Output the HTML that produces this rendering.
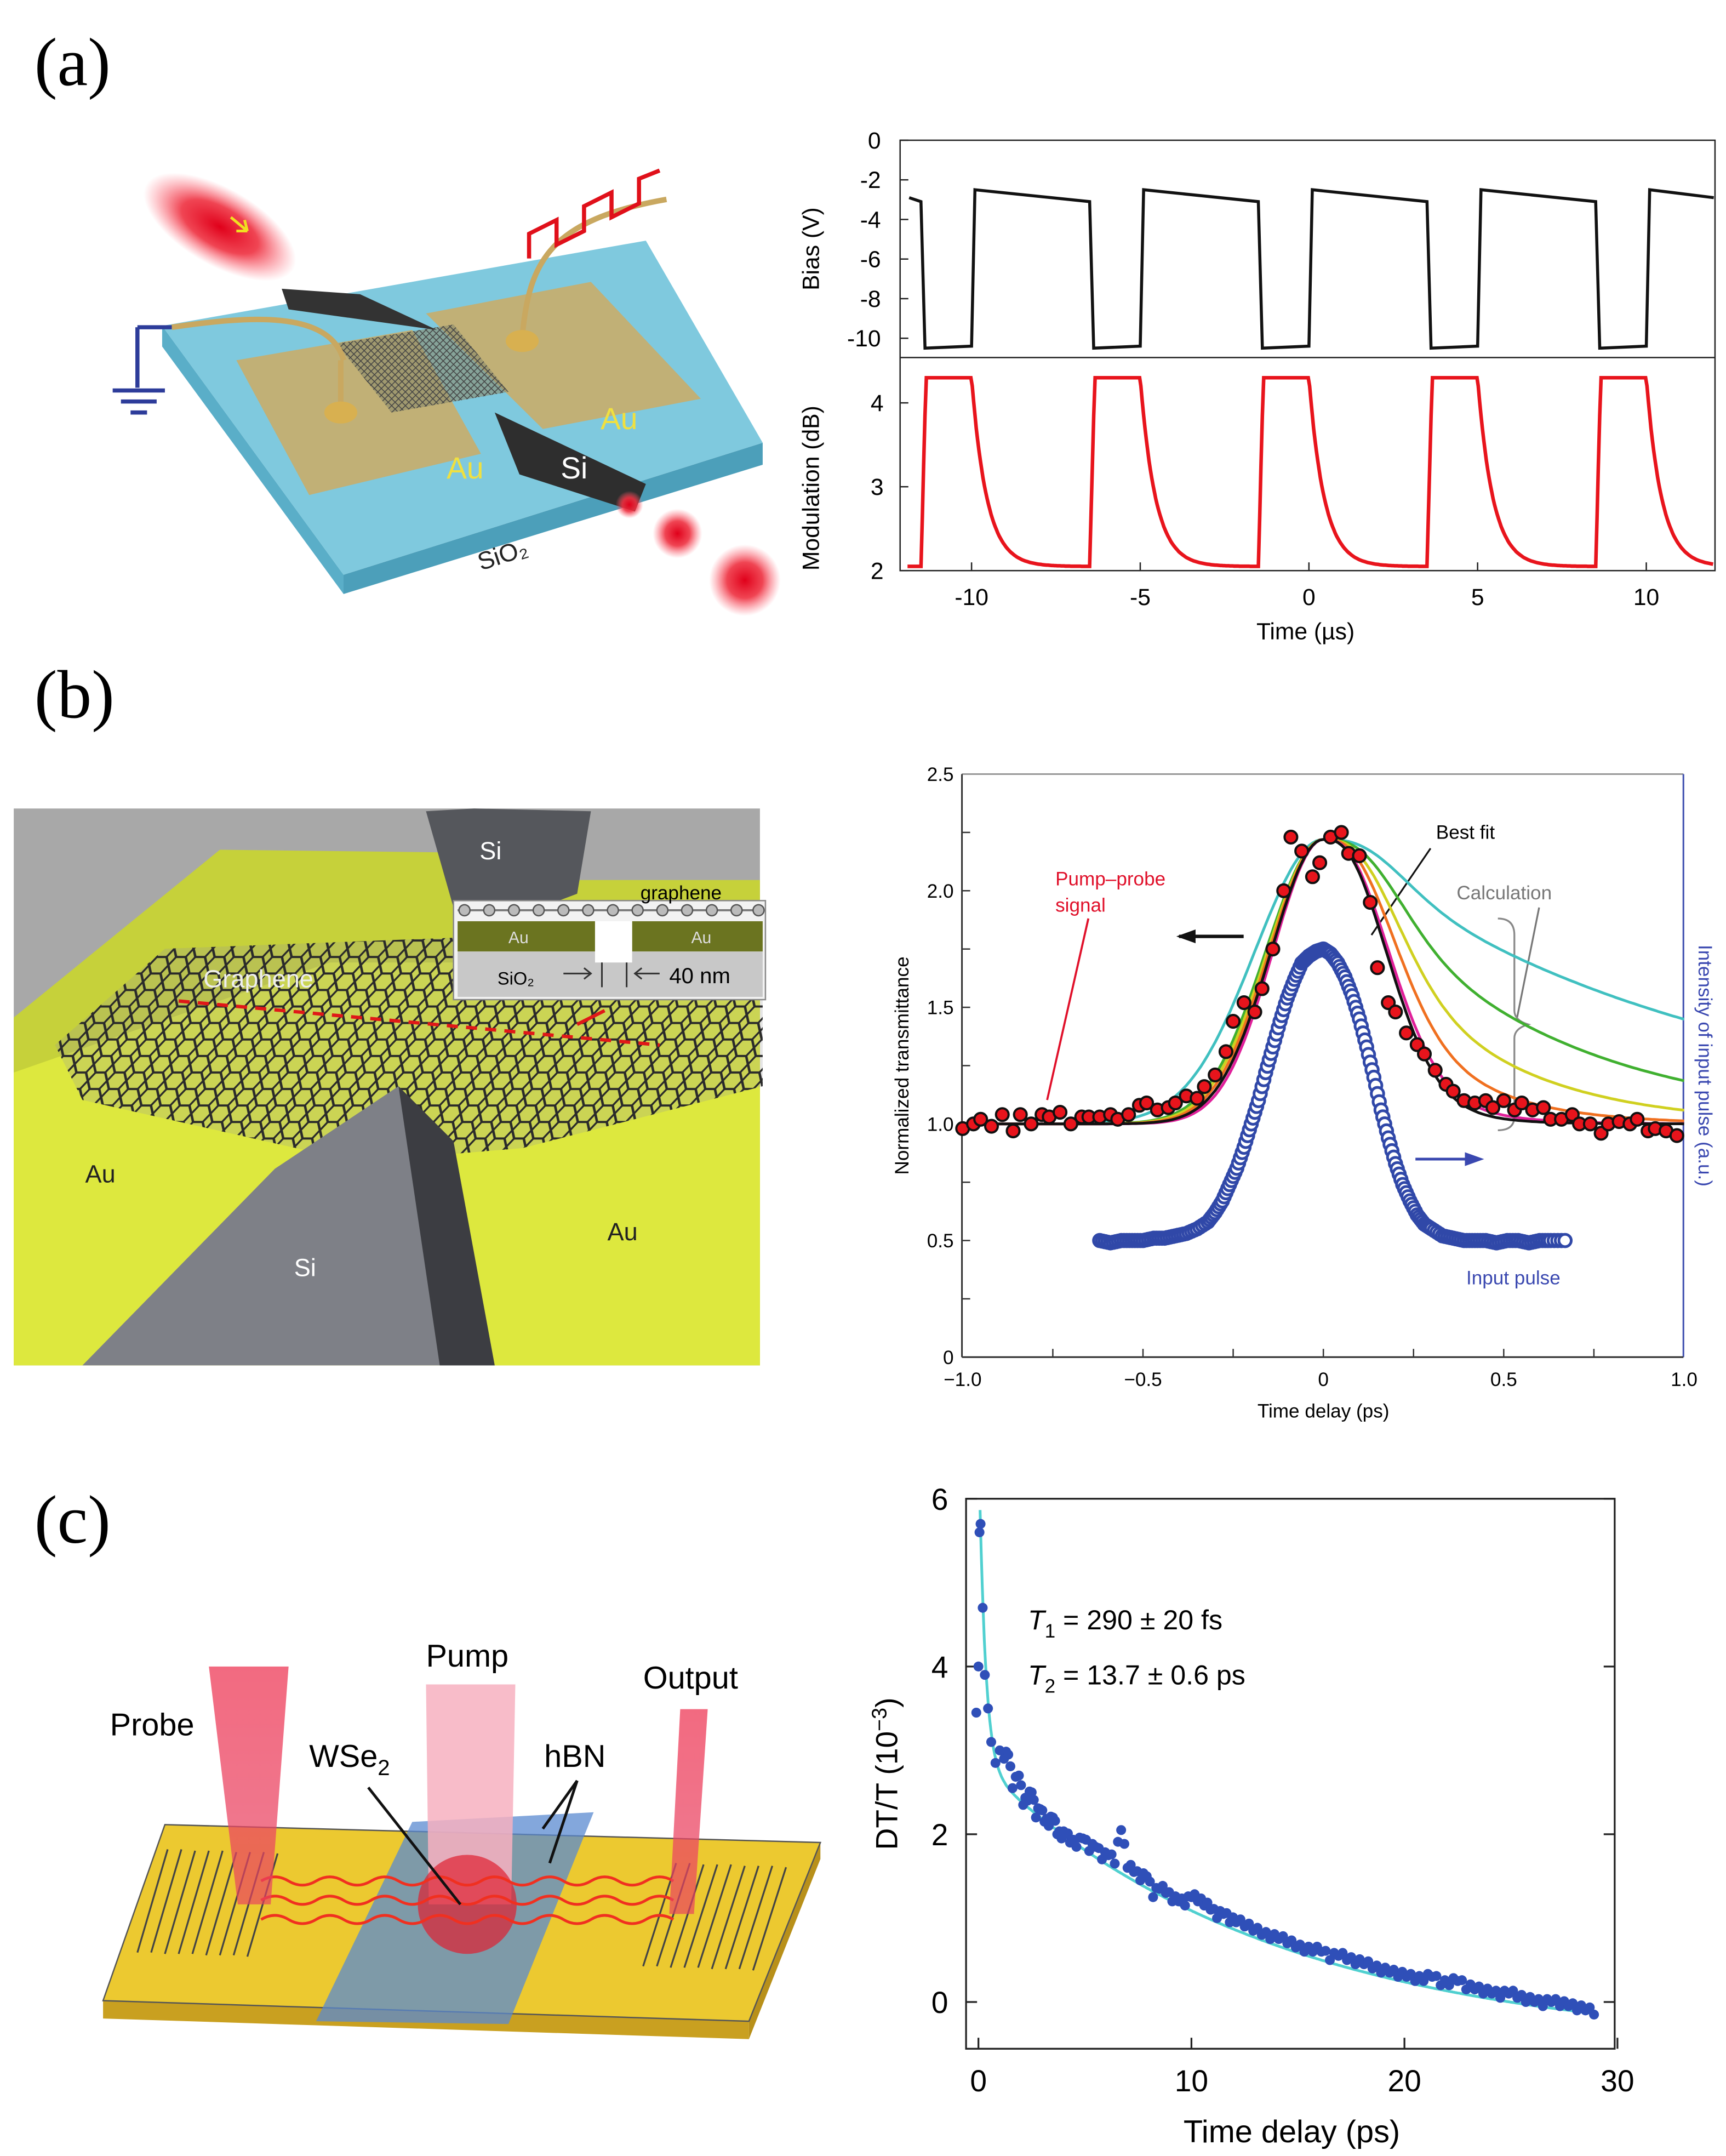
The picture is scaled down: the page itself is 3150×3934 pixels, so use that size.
<!DOCTYPE html>
<html><head><meta charset="utf-8"><style>
html,body{margin:0;padding:0;background:#fff}
svg{display:block}
text{font-family:"Liberation Sans",sans-serif}
.serif{font-family:"Liberation Serif",serif}
</style></head><body>
<svg id="root" width="3150" height="3934" viewBox="0 0 1256 1568" preserveAspectRatio="none" xmlns="http://www.w3.org/2000/svg">
<defs>
<radialGradient id="rg" cx="50%" cy="50%" r="50%"><stop offset="0" stop-color="#e0001a"/><stop offset="0.5" stop-color="#ee3040" stop-opacity="0.9"/><stop offset="1" stop-color="#ff6070" stop-opacity="0"/></radialGradient>
<linearGradient id="beam" x1="0" y1="0" x2="0" y2="1"><stop offset="0" stop-color="#f0506a"/><stop offset="1" stop-color="#e84060" stop-opacity="0.8"/></linearGradient>
<pattern id="hex" width="14" height="12" patternUnits="userSpaceOnUse" patternTransform="skewX(-20)">
<path d="M0,6 L3.5,0 L10.5,0 L14,6 L10.5,12 L3.5,12 Z" fill="none" stroke="#2a2a2a" stroke-width="1.6"/>
</pattern>
<pattern id="mesh" width="5" height="5" patternUnits="userSpaceOnUse"><path d="M0,0 L5,5 M5,0 L0,5" stroke="#444" stroke-width="0.6"/></pattern>
</defs>

<text class="serif" x="25" y="62" font-size="50">(a)</text>
<text class="serif" x="25" y="522" font-size="50">(b)</text>
<text class="serif" x="25" y="1122" font-size="50">(c)</text>

<g>
<polygon points="118,252 250,432 250,418 118,237" fill="#5aaec8"/>
<polygon points="250,432 555,338 555,322 250,418" fill="#4c9fba"/>
<polygon points="118,237 470,175 555,322 250,418" fill="#7fc9de"/>
<polygon points="172,262 300,240 350,330 225,360" fill="#c9ad6a" opacity="0.9"/>
<polygon points="310,228 430,205 510,290 395,312" fill="#c9ad6a" opacity="0.9"/>
<polygon points="245,250 330,236 370,285 285,300" fill="#8a8a6a" opacity="0.6"/>
<polygon points="245,250 330,236 370,285 285,300" fill="url(#mesh)"/>
<polygon points="205,210 262,214 318,240 210,225" fill="#333"/>
<polygon points="360,300 470,352 462,372 378,345" fill="#2e2e2e"/>
<path d="M125,238 C180,230 240,225 250,262" stroke="#c9a860" stroke-width="4" fill="none"/>
<path d="M248,300 L248,262" stroke="#c9a860" stroke-width="4"/>
<ellipse cx="248" cy="300" rx="12" ry="8" fill="#d8b050"/>
<path d="M380,245 C385,190 400,160 485,145" stroke="#c9a860" stroke-width="4" fill="none"/>
<ellipse cx="380" cy="248" rx="12" ry="8" fill="#d8b050"/>
<path d="M100,238 L125,238 M100,238 L100,282 M82,284 L120,284 M88,292 L114,292 M95,300 L107,300" stroke="#2d3c9a" stroke-width="3" fill="none"/>
<path d="M385,188 L385,170 L405,160 L405,178 L425,168 L425,150 L445,140 L445,158 L465,148 L465,130 L480,124" stroke="#e0101a" stroke-width="3" fill="none"/>
<ellipse cx="160" cy="165" rx="62" ry="28" transform="rotate(30 160 165)" fill="url(#rg)"/>
<path d="M168,158 L180,168 M180,168 L172,168 M180,168 L178,160" stroke="#f0e020" stroke-width="2"/>
<circle cx="458" cy="367" r="10" fill="url(#rg)"/>
<circle cx="493" cy="388" r="18" fill="url(#rg)"/>
<circle cx="542" cy="422" r="26" fill="url(#rg)"/>
<text x="325" y="348" font-size="22" fill="#f0e040">Au</text>
<text x="437" y="312" font-size="22" fill="#f0e040">Au</text>
<text x="408" y="348" font-size="22" fill="#fff">Si</text>
<text x="350" y="415" font-size="18" fill="#222" transform="rotate(-18 350 415)">SiO₂</text>
</g>

<g id="chartA">
<rect x="655" y="102" width="593" height="313" fill="none" stroke="#222" stroke-width="1"/>
<line x1="655" y1="260" x2="1248" y2="260" stroke="#222" stroke-width="1"/>
<text transform="translate(596,181) rotate(-90)" font-size="17" text-anchor="middle">Bias (V)</text>
<text transform="translate(596,355) rotate(-90)" font-size="17" text-anchor="middle">Modulation (dB)</text>
<text x="950" y="465" font-size="17" text-anchor="middle">Time (µs)</text>
</g>

<g>
<rect x="10" y="588" width="543" height="405" fill="#a8a8a8"/>
<polygon points="10,740 160,618 330,620 330,640 553,640 553,993 10,993" fill="#c6d13a"/>
<polygon points="10,780 240,700 553,700 553,993 10,993" fill="#dde83e"/>
<polygon points="310,590 345,588 430,590 420,650 380,665 330,660" fill="#55575c"/>
<polygon points="40,760 120,690 330,682 555,720 555,790 380,835 260,845 60,800" fill="#999" opacity="0.25"/>
<polygon points="40,760 120,690 330,682 555,720 555,790 380,835 260,845 60,800" fill="url(#hex)"/>
<polygon points="60,993 200,850 290,790 320,830 360,993" fill="#7e8087"/>
<polygon points="290,790 330,830 360,993 320,993" fill="#3c3d42"/>
<line x1="130" y1="728" x2="480" y2="760" stroke="#e01818" stroke-width="2.5" stroke-dasharray="8,6"/>
<path d="M440,735 L420,745" stroke="#e01818" stroke-width="2.5"/>
<text x="349" y="625" font-size="18" fill="#fff">Si</text>
<text x="148" y="718" font-size="18" fill="#eee">Graphene</text>
<text x="62" y="860" font-size="18" fill="#222">Au</text>
<text x="442" y="902" font-size="18" fill="#222">Au</text>
<text x="214" y="928" font-size="18" fill="#fff">Si</text>
<rect x="330" y="655" width="227" height="72" fill="#f2f2f2" stroke="#888"/>
<rect x="333" y="670" width="100" height="22" fill="#6b7420"/>
<rect x="460" y="670" width="95" height="22" fill="#6b7420"/>
<rect x="333" y="692" width="222" height="33" fill="#c8c8c8"/>
<rect x="433" y="670" width="27" height="30" fill="#fff"/>
<line x1="333" y1="662" x2="555" y2="662" stroke="#777" stroke-width="1.5"/>
<g fill="#bbb" stroke="#555">
<circle cx="338" cy="662" r="4"/><circle cx="356" cy="662" r="4"/><circle cx="374" cy="662" r="4"/><circle cx="392" cy="662" r="4"/><circle cx="410" cy="662" r="4"/><circle cx="428" cy="662" r="4"/><circle cx="446" cy="662" r="4"/><circle cx="464" cy="662" r="4"/><circle cx="482" cy="662" r="4"/><circle cx="500" cy="662" r="4"/><circle cx="518" cy="662" r="4"/><circle cx="536" cy="662" r="4"/><circle cx="552" cy="662" r="4"/>
</g>
<text x="466" y="654" font-size="14">graphene</text>
<text x="370" y="686" font-size="12" fill="#ddd">Au</text>
<text x="503" y="686" font-size="12" fill="#ddd">Au</text>
<text x="362" y="716" font-size="13">SiO₂</text>
<path d="M410,708 L430,708 M425,704 L430,708 L425,712 M438,700 L438,718 M456,700 L456,718 M480,708 L462,708 M467,704 L462,708 L467,712" stroke="#333" stroke-width="1.2" fill="none"/>
<text x="487" y="715" font-size="16">40 nm</text>
</g>

<g id="chartB">
<line x1="700" y1="563" x2="1225" y2="563" stroke="#999" stroke-width="1.2"/>
<line x1="1225" y1="563" x2="1225" y2="987" stroke="#4050b0" stroke-width="1.2"/>
<line x1="700" y1="563" x2="700" y2="987" stroke="#333" stroke-width="1.2"/>
<line x1="700" y1="987" x2="1225" y2="987" stroke="#333" stroke-width="1.2"/>
<text transform="translate(661,775) rotate(-90)" font-size="14" text-anchor="middle">Normalized transmittance</text>
<text transform="translate(1236,775) rotate(90)" font-size="14" text-anchor="middle" fill="#3a48b0">Intensity of input pulse (a.u.)</text>
<text x="963" y="1031" font-size="14" text-anchor="middle">Time delay (ps)</text>
<text x="768" y="644" font-size="14" fill="#e0102a">Pump–probe</text>
<text x="768" y="663" font-size="14" fill="#e0102a">signal</text>
<line x1="792" y1="668" x2="762" y2="800" stroke="#e0102a" stroke-width="1.5"/>
<text x="1045" y="610" font-size="14">Best fit</text>
<line x1="1041" y1="617" x2="998" y2="680" stroke="#111" stroke-width="1.3"/>
<text x="1060" y="654" font-size="14" fill="#777">Calculation</text>
<line x1="1120" y1="660" x2="1104" y2="740" stroke="#777" stroke-width="1.3"/>
<path d="M1090,668 Q1102,668 1102,680 L1102,735 Q1102,742 1112,745 Q1102,748 1102,755 L1102,812 Q1102,822 1090,822" stroke="#888" stroke-width="1.3" fill="none"/>
<text x="1067" y="934" font-size="14" fill="#3a48b0">Input pulse</text>
<path d="M858,681 L905,681" stroke="#111" stroke-width="2.5"/><path d="M856,681 L870,676 L870,686 Z" fill="#111"/>
<path d="M1030,843 L1070,843" stroke="#3a48b0" stroke-width="2"/><path d="M1080,843 L1066,838 L1066,848 Z" fill="#3a48b0"/>
</g>

<g>
<polygon points="75,1455 545,1470 545,1483 75,1468" fill="#c9a020"/>
<polygon points="545,1470 597,1340 597,1352 545,1483" fill="#b8901a"/>
<polygon points="120,1327 597,1340 545,1470 75,1455" fill="#ecc930" stroke="#555" stroke-width="1"/>
<g stroke="#444" stroke-width="1.3" fill="none">
<path d="M122,1345 L100,1420 M132,1345 L110,1420 M142,1346 L120,1421 M152,1346 L130,1421 M162,1346 L140,1421 M172,1347 L150,1422 M182,1347 L160,1422 M192,1347 L170,1422 M202,1348 L180,1423"/>
</g>
<g stroke="#444" stroke-width="1.3" fill="none">
<path d="M492,1355 L468,1430 M502,1355 L478,1430 M512,1356 L488,1431 M522,1356 L498,1431 M532,1356 L508,1431 M542,1357 L518,1432 M552,1357 L528,1432 M562,1357 L538,1432 M572,1358 L548,1433"/>
</g>
<polygon points="300,1325 432,1318 370,1472 230,1470" fill="#5a8ad0" opacity="0.75"/>
<polygon points="310,1225 375,1225 372,1385 312,1385" fill="#f7b0c0" opacity="0.85"/>
<circle cx="340" cy="1385" r="36" fill="#e02030" opacity="0.7"/>
<g stroke="#f03020" stroke-width="2" fill="none">
<path d="M190,1368 q10,-6 20,0 t20,0 t20,0 t20,0 t20,0 t20,0 t20,0 t20,0 t20,0 t20,0 t20,0 t20,0 t20,0 t20,0 t20,0"/>
<path d="M190,1382 q10,-6 20,0 t20,0 t20,0 t20,0 t20,0 t20,0 t20,0 t20,0 t20,0 t20,0 t20,0 t20,0 t20,0 t20,0 t20,0"/>
<path d="M190,1396 q10,-6 20,0 t20,0 t20,0 t20,0 t20,0 t20,0 t20,0 t20,0 t20,0 t20,0 t20,0 t20,0 t20,0 t20,0 t20,0"/>
</g>
<polygon points="152,1212 210,1212 197,1385 173,1385" fill="url(#beam)" opacity="0.85"/>
<polygon points="495,1243 515,1243 505,1392 487,1392" fill="url(#beam)" opacity="0.85"/>
<line x1="268" y1="1300" x2="335" y2="1385" stroke="#111" stroke-width="2"/>
<line x1="420" y1="1295" x2="395" y2="1330" stroke="#111" stroke-width="2"/>
<line x1="420" y1="1295" x2="400" y2="1355" stroke="#111" stroke-width="2"/>
<text x="80" y="1262" font-size="23">Probe</text>
<text x="310" y="1212" font-size="23">Pump</text>
<text x="468" y="1228" font-size="23">Output</text>
<text x="225" y="1285" font-size="23">WSe<tspan font-size="16" dy="6">2</tspan></text>
<text x="396" y="1285" font-size="23">hBN</text>
</g>

<g id="chartC">
<rect x="703" y="1090" width="472" height="400" fill="none" stroke="#222" stroke-width="1.3"/>
<text transform="translate(653,1290) rotate(-90)" font-size="22" text-anchor="middle">DT/T (10<tspan font-size="15" dy="-8">−3</tspan><tspan dy="8">)</tspan></text>
<text x="940" y="1558" font-size="23" text-anchor="middle">Time delay (ps)</text>
<text x="748" y="1185" font-size="20"><tspan font-style="italic">T</tspan><tspan font-size="14" dy="6">1</tspan><tspan dy="-6"> = 290 ± 20 fs</tspan></text>
<text x="748" y="1225" font-size="20"><tspan font-style="italic">T</tspan><tspan font-size="14" dy="6">2</tspan><tspan dy="-6"> = 13.7 ± 0.6 ps</tspan></text>
</g>
</svg>
<script>
// ---------- Chart A data ----------
const biasTicks=[0,-2,-4,-6,-8,-10];
const modTicks=[4,3,2];
const timeTicksA=[-10,-5,0,5,10];
const biasFallTimes=[-11.5,-6.5,-1.5,3.5,8.5];
const biasRiseTimes=[-10,-5,0,5,10];
const biasHighStart=[-2.5];
const biasHighEnd=[-3.1];
const biasLow=[-10.5];
const modHigh=[4.3];
const modLow=[2.05];
const modDecayTau=[0.45];
// ---------- Chart B data ----------
const ticksB_y=[0,0.5,1.0,1.5,2.0,2.5];
const ticksB_yLabels=["0","0.5","1.0","1.5","2.0","2.5"];
const ticksB_x=[-1,-0.5,0,0.5,1];
const ticksB_xLabels=["−1.0","−0.5","0","0.5","1.0"];
const pumpProbeT=[-1.0,-0.97,-0.95,-0.92,-0.89,-0.86,-0.84,-0.81,-0.78,-0.76,-0.73,-0.70,-0.67,-0.65,-0.62,-0.59,-0.57,-0.54,-0.51,-0.49,-0.46,-0.43,-0.41,-0.38,-0.35,-0.33,-0.30,-0.27,-0.25,-0.22,-0.19,-0.17,-0.14,-0.11,-0.09,-0.06,-0.03,-0.01,0.02,0.05,0.07,0.10,0.13,0.15,0.18,0.20,0.23,0.26,0.28,0.31,0.34,0.36,0.39,0.42,0.45,0.47,0.50,0.53,0.55,0.58,0.61,0.63,0.66,0.69,0.71,0.74,0.77,0.79,0.82,0.85,0.87,0.90,0.92,0.95,0.98];
const pumpProbeV=[0.98,1.0,1.02,0.99,1.04,0.97,1.04,1.0,1.04,1.03,1.05,1.0,1.03,1.03,1.03,1.04,1.02,1.04,1.08,1.09,1.06,1.07,1.09,1.12,1.11,1.16,1.21,1.31,1.44,1.52,1.48,1.58,1.75,2.0,2.23,2.17,2.06,2.12,2.23,2.25,2.16,2.15,1.95,1.67,1.52,1.48,1.39,1.34,1.3,1.23,1.17,1.14,1.1,1.09,1.1,1.07,1.1,1.06,1.09,1.06,1.07,1.02,1.02,1.04,1.0,1.0,0.96,1.0,1.01,1.0,1.02,0.97,0.98,0.97,0.95];
const inputPulseT=[-0.62,-0.59,-0.56,-0.53,-0.5,-0.47,-0.44,-0.41,-0.38,-0.35,-0.32,-0.3,-0.28,-0.26,-0.24,-0.22,-0.2,-0.18,-0.16,-0.14,-0.12,-0.1,-0.08,-0.06,-0.04,-0.02,0,0.02,0.04,0.06,0.08,0.1,0.12,0.14,0.16,0.18,0.2,0.22,0.24,0.26,0.28,0.3,0.33,0.36,0.39,0.42,0.45,0.48,0.51,0.54,0.57,0.6,0.63,0.67];
const inputPulseV=[0.5,0.49,0.5,0.5,0.5,0.51,0.51,0.52,0.53,0.55,0.58,0.62,0.67,0.74,0.81,0.9,1.0,1.1,1.22,1.33,1.44,1.54,1.62,1.69,1.72,1.74,1.75,1.73,1.69,1.63,1.55,1.45,1.33,1.2,1.06,0.94,0.83,0.74,0.67,0.61,0.57,0.55,0.52,0.51,0.5,0.5,0.5,0.49,0.5,0.5,0.49,0.5,0.5,0.5];
const calcNames=["calc-cyan","calc-green","calc-yellow","calc-orange","calc-magenta","best-fit"];
const calcColors=["#40c0c0","#40b030","#d0d020","#f07020","#e0209a","#111111"];
const calcTau=[1.0,0.53,0.33,0.22,0.14,0.12];
const calcRiseSigma=[0.19,0.16,0.155,0.15,0.14,0.145];
const calcFallSigma=[0.145];
const calcPeak=[2.22];
// ---------- Chart C data ----------
const ticksC_y=[0,2,4,6];
const ticksC_x=[0,10,20,30];
const dtT=[-0.1,0.0,0.05,0.1,0.2,0.3,0.45,0.6,0.8,1.0,1.2,1.4,1.6,1.9,2.1,2.3,2.5,2.7,2.9,3.1,3.3,3.5,3.7,3.9,4.1,4.3,4.6,4.9,5.2,5.5,5.8,6.1,6.4,6.7,7.0,7.3,7.6,7.9,8.2,8.5,8.8,9.1,9.4,9.7,10.0,10.3,10.6,10.9,11.2,11.5,11.8,12.1,12.5,12.9,13.3,13.7,14.1,14.5,14.9,15.3,15.7,16.1,16.5,16.9,17.3,17.7,18.1,18.5,18.9,19.3,19.7,20.1,20.5,20.9,21.3,21.7,22.1,22.5,22.9,23.3,23.7,24.1,24.5,24.9,25.3,25.7,26.1,26.5,26.9,27.3,27.7,28.1,28.5,28.9];
const dtV=[3.45,4.0,5.6,5.7,4.7,3.9,3.5,3.1,2.85,3.0,2.9,2.95,2.55,2.7,2.35,2.4,2.5,2.2,2.3,2.15,2.1,2.2,2.0,1.95,2.0,1.9,1.85,1.95,1.8,1.85,1.7,1.75,1.65,2.05,1.6,1.55,1.45,1.5,1.25,1.35,1.3,1.2,1.2,1.15,1.25,1.2,1.15,1.1,1.0,1.05,0.95,0.95,0.9,0.85,0.8,0.75,0.75,0.7,0.65,0.6,0.6,0.6,0.5,0.55,0.5,0.45,0.45,0.4,0.35,0.35,0.3,0.3,0.25,0.25,0.3,0.2,0.2,0.25,0.15,0.15,0.1,0.1,0.05,0.1,0.05,0.0,0.0,-0.05,0.0,-0.05,-0.05,-0.1,-0.1,-0.15];
const fitA1=[4.0];
const fitT1=[0.29];
const fitA2=[3.4];
const fitT2=[13.7];
const fitOffset=[-0.55];

const NS="http://www.w3.org/2000/svg";
function mk(parent,tag,attrs){const e=document.createElementNS(NS,tag);for(const k in attrs)e.setAttribute(k,attrs[k]);parent.appendChild(e);return e;}

(function(){
const g=document.getElementById('chartA');
const xa=t=>707+(t+10)*24.55;
const yb=v=>102-v*14.4;
const ym=v=>415-(v-2)*61;
biasTicks.forEach(v=>{
  const l=mk(g,'line',{x1:655,x2:661,y1:yb(v),y2:yb(v),stroke:'#222'});
  
  
  const t=mk(g,'text',{x:641,y:yb(v)+6,'font-size':17,'text-anchor':'end'});t.textContent=v;
  
  
});
modTicks.forEach(v=>{
  const l=mk(g,'line',{x1:655,x2:661,y1:ym(v),y2:ym(v),stroke:'#222'});
  
  
  const t=mk(g,'text',{x:643,y:ym(v)+6,'font-size':17,'text-anchor':'end'});t.textContent=v;
  
  
});
timeTicksA.forEach(v=>{
  const l=mk(g,'line',{x1:xa(v),x2:xa(v),y1:415,y2:409,stroke:'#222'});
  
  
  const t=mk(g,'text',{x:xa(v),y:440,'font-size':17,'text-anchor':'middle'});t.textContent=v;
  
  
});
let d=`M${xa(-11.85)},${yb(biasHighEnd[0]+0.2)}`;
for(let i=0;i<biasFallTimes.length;i++){
  const f=biasFallTimes[i], r=biasRiseTimes[i];
  d+=` L${xa(f)},${yb(biasHighEnd[0])} L${xa(f+0.12)},${yb(biasLow[0])} L${xa(r)},${yb(biasLow[0]+0.1)} L${xa(r+0.1)},${yb(biasHighStart[0])}`;
  if(i+1>=biasFallTimes.length) d+=` L${xa(12)},${yb(biasHighEnd[0]+0.2)}`;
}
const bp=mk(g,'path',{d:d,stroke:'#111','stroke-width':2.2,fill:'none'});


let pts=[];
for(let t=-11.9;t<=12.01;t+=0.04){
  let v=modLow[0];
  for(let i=0;i<biasFallTimes.length;i++){
    const f=biasFallTimes[i], r=biasRiseTimes[i];
    if(t>=f && t<r) v=t<f+0.15?modLow[0]+(modHigh[0]-modLow[0])*(t-f)/0.15:modHigh[0];
    else if(t>=r && t<r+3.5) v=Math.max(v,modLow[0]+(modHigh[0]-modLow[0])*Math.exp(-(t-r)/modDecayTau[0]));
  }
  pts.push(`${xa(t).toFixed(1)},${ym(v).toFixed(1)}`);
}
const mp=mk(g,'polyline',{points:pts.join(' '),stroke:'#e8141c','stroke-width':2.6,fill:'none'});


})();

(function(){
const g=document.getElementById('chartB');
const xb=t=>963+t*262.5;
const yv=v=>987-v*169.6;
for(let v=0.25;v<2.5;v+=0.25){const l=mk(g,'line',{x1:700,x2:706,y1:yv(v),y2:yv(v),stroke:'#333'});

}
for(let t=-0.75;t<1;t+=0.25){const l=mk(g,'line',{x1:xb(t),x2:xb(t),y1:987,y2:981,stroke:'#333'});

}
ticksB_y.forEach((v,i)=>{const t=mk(g,'text',{x:694,y:yv(v)+5,'font-size':14,'text-anchor':'end'});t.textContent=ticksB_yLabels[i];

});
ticksB_x.forEach((v,i)=>{const t=mk(g,'text',{x:xb(v),y:1008,'font-size':14,'text-anchor':'middle'});t.textContent=ticksB_xLabels[i];

});
calcNames.forEach((nm,i)=>{
  let p=[];
  const A=calcPeak[0]-1;
  for(let t=-1;t<=1.0001;t+=0.01){
    let v;
    if(t<0) v=1+A*Math.exp(-t*t/(2*calcRiseSigma[i]**2));
    else { const s=Math.exp(-t*t/(2*calcFallSigma[0]**2)); v=1+A*(s+(1-s)*Math.exp(-t/calcTau[i])); }
    p.push(`${xb(t).toFixed(1)},${yv(v).toFixed(1)}`);
  }
  const pl=mk(g,'polyline',{points:p.join(' '),stroke:calcColors[i],'stroke-width':2,fill:'none'});
  
  
});
inputPulseT.forEach((t,i)=>{
  const c=mk(g,'circle',{cx:xb(t),cy:yv(inputPulseV[i]),r:4.5,fill:'#fff',stroke:'#3048a8','stroke-width':2});
  
  
  if(i+1<inputPulseT.length){
    for(let k=1;k<4;k++){
      const f=k/4;
      const c2=mk(g,'circle',{cx:xb(t+(inputPulseT[i+1]-t)*f),cy:yv(inputPulseV[i]+(inputPulseV[i+1]-inputPulseV[i])*f),r:4.5,fill:'#fff',stroke:'#3048a8','stroke-width':2});
      
      
    }
  }
});
pumpProbeT.forEach((t,i)=>{
  const c=mk(g,'circle',{cx:xb(t),cy:yv(pumpProbeV[i]),r:4.6,fill:'#e8141c',stroke:'#111','stroke-width':1.6});
  
  
});
})();

(function(){
const g=document.getElementById('chartC');
const xc=t=>712+t*15.5;
const yc=v=>1456-v*61;
ticksC_y.forEach(v=>{
  const l=mk(g,'line',{x1:703,x2:711,y1:yc(v),y2:yc(v),stroke:'#222','stroke-width':1.3});
  
  
  const r=mk(g,'line',{x1:1167,x2:1175,y1:yc(v),y2:yc(v),stroke:'#222','stroke-width':1.3});
  
  
  const t=mk(g,'text',{x:690,y:yc(v)+8,'font-size':22,'text-anchor':'end'});t.textContent=v;
  
  
});
ticksC_x.forEach(v=>{
  const l=mk(g,'line',{x1:xc(v),x2:xc(v),y1:1490,y2:1482,stroke:'#222','stroke-width':1.3});
  
  
  const t=mk(g,'text',{x:xc(v),y:1521,'font-size':22,'text-anchor':'middle'});t.textContent=v;
  
  
});
let p=[];
for(let t=0.08;t<=29;t+=0.05){
  const v=fitA1[0]*Math.exp(-t/fitT1[0])+fitA2[0]*Math.exp(-t/fitT2[0])+fitOffset[0];
  p.push(`${xc(t).toFixed(1)},${yc(v).toFixed(1)}`);
}
const fl=mk(g,'polyline',{points:p.join(' '),stroke:'#50d0d0','stroke-width':2,fill:'none'});


dtT.forEach((t,i)=>{
  const c=mk(g,'circle',{cx:xc(t),cy:yc(dtV[i]),r:3.6,fill:'#2f4fb8'});
  
  
  if(i+1<dtT.length && t>1){
    const c2=mk(g,'circle',{cx:xc((t+dtT[i+1])/2),cy:yc((dtV[i]+dtV[i+1])/2+0.06),r:3.6,fill:'#2f4fb8'});
    
    
  }
});
})();
</script>
</body></html>
